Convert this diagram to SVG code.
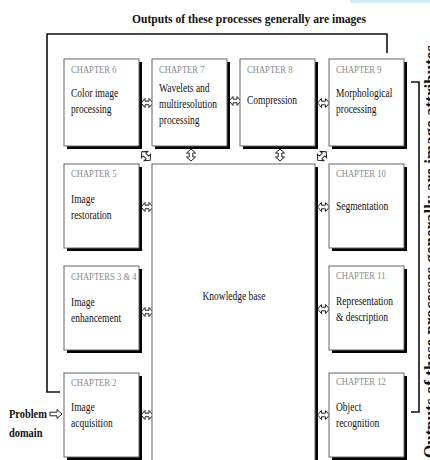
<svg xmlns="http://www.w3.org/2000/svg" width="430" height="460" viewBox="0 0 430 460">
<style>
.shadow{fill:#000}
.box{fill:#fff;stroke:#666;stroke-width:1}
.ch{font-family:"Liberation Serif",serif;font-size:11px;fill:#8a8a8a}
.t{font-family:"Liberation Serif",serif;font-size:13px;fill:#111}
.b{font-family:"Liberation Serif",serif;font-weight:bold;fill:#111}
.line{fill:none;stroke:#111;stroke-width:1.6}
.arr{fill:#fff;stroke:#222;stroke-width:1}
</style>
<defs>
<path id="dbl" class="arr" d="M-6,0 L-2,-4.5 L-2,-1.8 L2,-1.8 L2,-4.5 L6,0 L2,4.5 L2,1.8 L-2,1.8 L-2,4.5 Z"/>
<path id="sgl" class="arr" d="M-6,-1.8 L1,-1.8 L1,-4.5 L6,0 L1,4.5 L1,1.8 L-6,1.8 Z"/>
</defs>
<rect x="350" y="0" width="80" height="3" fill="#d4edf5"/>
<text class="b" font-size="13.5" x="132" y="23" textLength="234" lengthAdjust="spacingAndGlyphs">Outputs of these processes generally are images</text>
<text class="b" font-size="19" transform="translate(437,458) rotate(-90)" textLength="413" lengthAdjust="spacingAndGlyphs">Outputs of these processes generally are image attributes</text>
<g id="connectors">
<polyline class="line" points="60,392 47,392 47,34 387,34 387,53"/>
<polyline class="line" points="411,82 419,82 419,412 411,412"/>
<use href="#dbl" x="147" y="103"/>
<use href="#dbl" x="235" y="101"/>
<use href="#dbl" x="323.5" y="103"/>
<use href="#dbl" x="147" y="207"/>
<use href="#dbl" x="147" y="312"/>
<use href="#dbl" x="147" y="415"/>
<use href="#dbl" x="323.5" y="207"/>
<use href="#dbl" x="323.5" y="309"/>
<use href="#dbl" x="323.5" y="415"/>
<use href="#dbl" transform="translate(191,155) rotate(90)"/>
<use href="#dbl" transform="translate(280,155) rotate(90)"/>
<use href="#dbl" transform="translate(146,156) rotate(45)"/>
<use href="#dbl" transform="translate(322,156) rotate(-45)"/>
<use href="#sgl" x="56" y="414"/>
</g>
<g id="problem">
<text class="b" font-size="13.5" transform="translate(9,418) scale(0.77,1)">Problem</text>
<text class="b" font-size="13.5" transform="translate(9,437) scale(0.77,1)">domain</text>
</g>
<g id="kb">
<rect class="shadow" x="155" y="167" width="163" height="300"/>
<rect class="box" x="152" y="164" width="163" height="300"/>
<text class="t" text-anchor="middle" transform="translate(234,300) scale(0.73,1)">Knowledge base</text>
</g>
<g id="ch6">
<rect class="shadow" x="67" y="62" width="75" height="87"/>
<rect class="box" x="64" y="59" width="75" height="87"/>
<text class="ch" transform="translate(71,73) scale(0.78,1)">CHAPTER 6</text>
<text class="t" transform="translate(71,97) scale(0.73,1)"><tspan x="0" y="0">Color image</tspan><tspan x="0" y="16">processing</tspan></text>
</g>
<g id="ch7">
<rect class="shadow" x="155" y="62" width="75" height="87"/>
<rect class="box" x="152" y="59" width="75" height="87"/>
<text class="ch" transform="translate(159,73) scale(0.78,1)">CHAPTER 7</text>
<text class="t" transform="translate(159,92) scale(0.73,1)"><tspan x="0" y="0">Wavelets and</tspan><tspan x="0" y="16">multiresolution</tspan><tspan x="0" y="32">processing</tspan></text>
</g>
<g id="ch8">
<rect class="shadow" x="243" y="62" width="75" height="87"/>
<rect class="box" x="240" y="59" width="75" height="87"/>
<text class="ch" transform="translate(247,73) scale(0.78,1)">CHAPTER 8</text>
<text class="t" transform="translate(247,104) scale(0.73,1)">Compression</text>
</g>
<g id="ch9">
<rect class="shadow" x="332" y="62" width="75" height="87"/>
<rect class="box" x="329" y="59" width="75" height="87"/>
<text class="ch" transform="translate(336,73) scale(0.78,1)">CHAPTER 9</text>
<text class="t" transform="translate(336,97) scale(0.73,1)"><tspan x="0" y="0">Morphological</tspan><tspan x="0" y="16">processing</tspan></text>
</g>
<g id="ch5">
<rect class="shadow" x="67" y="167" width="75" height="84"/>
<rect class="box" x="64" y="164" width="75" height="84"/>
<text class="ch" transform="translate(71,177) scale(0.78,1)">CHAPTER 5</text>
<text class="t" transform="translate(71,203) scale(0.73,1)"><tspan x="0" y="0">Image</tspan><tspan x="0" y="16">restoration</tspan></text>
</g>
<g id="ch10">
<rect class="shadow" x="332" y="167" width="75" height="84"/>
<rect class="box" x="329" y="164" width="75" height="84"/>
<text class="ch" transform="translate(336,177) scale(0.78,1)">CHAPTER 10</text>
<text class="t" transform="translate(336,210) scale(0.73,1)">Segmentation</text>
</g>
<g id="ch3-4">
<rect class="shadow" x="67" y="269" width="75" height="84"/>
<rect class="box" x="64" y="266" width="75" height="84"/>
<text class="ch" transform="translate(71,280) scale(0.78,1)">CHAPTERS 3 &amp; 4</text>
<text class="t" transform="translate(71,306) scale(0.73,1)"><tspan x="0" y="0">Image</tspan><tspan x="0" y="16">enhancement</tspan></text>
</g>
<g id="ch11">
<rect class="shadow" x="332" y="269" width="75" height="84"/>
<rect class="box" x="329" y="266" width="75" height="84"/>
<text class="ch" transform="translate(336,279) scale(0.78,1)">CHAPTER 11</text>
<text class="t" transform="translate(336,305) scale(0.73,1)"><tspan x="0" y="0">Representation</tspan><tspan x="0" y="16">&amp; description</tspan></text>
</g>
<g id="ch2">
<rect class="shadow" x="67" y="376" width="75" height="84"/>
<rect class="box" x="64" y="373" width="75" height="84"/>
<text class="ch" transform="translate(71,386) scale(0.78,1)">CHAPTER 2</text>
<text class="t" transform="translate(71,411) scale(0.73,1)"><tspan x="0" y="0">Image</tspan><tspan x="0" y="16">acquisition</tspan></text>
</g>
<g id="ch12">
<rect class="shadow" x="332" y="376" width="75" height="84"/>
<rect class="box" x="329" y="373" width="75" height="84"/>
<text class="ch" transform="translate(336,385) scale(0.78,1)">CHAPTER 12</text>
<text class="t" transform="translate(336,411) scale(0.73,1)"><tspan x="0" y="0">Object</tspan><tspan x="0" y="16">recognition</tspan></text>
</g>
</svg>
